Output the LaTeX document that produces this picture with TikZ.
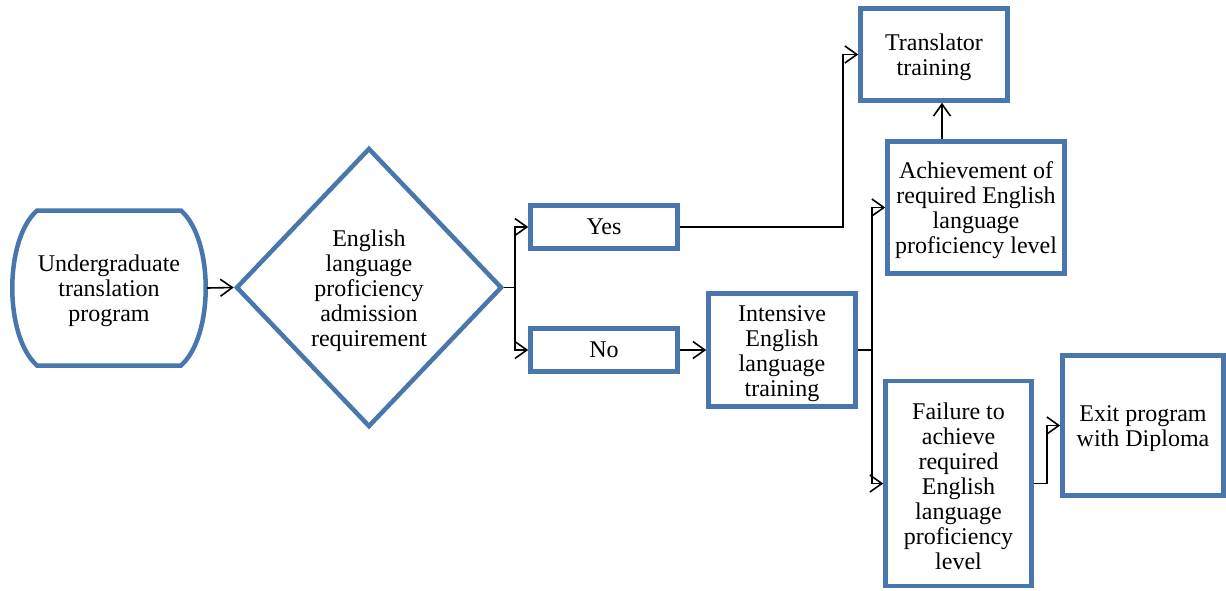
\documentclass[tikz,border=0pt]{standalone}
\usepackage{fontspec}
\setmainfont{Liberation Serif}
\usetikzlibrary{shapes.geometric,arrows.meta,calc}
\definecolor{boxblue}{RGB}{74,118,174}
% extra headroom on the first line of a stacked label
\newcommand\firstlinestrut{\rule{0pt}{22.5pt}}
\begin{document}
\begin{tikzpicture}[x=1pt,y=-1pt,
  every node/.style={font=\fontsize{24}{25}\selectfont, align=center, inner sep=0pt},
  flowbox/.style={draw=boxblue, line width=4.5pt, fill=white, rectangle},
  decision/.style={draw=boxblue, line width=4.5pt, fill=white, diamond},
  link/.style={draw=black, line width=1.6pt},
  arrowlink/.style={link, -{Straight Barb[length=12pt,width=17pt,line width=1.6pt]}}]
\useasboundingbox (0,0) rectangle (1226,590);

% start terminal with curved sides
\draw[draw=boxblue, line width=4.5pt, fill=white]
  (37,210.5) -- (181,210.5)
  .. controls (214,240) and (214,336) .. (181,365.5)
  -- (37,365.5)
  .. controls (4,336) and (4,240) .. (37,210.5) -- cycle;
\node[minimum width=196pt, minimum height=155pt] (start) at (109,288)
  {\firstlinestrut Undergraduate\\translation\\program};

\node[decision, minimum width=266pt, minimum height=279pt] (req) at (369,287.5)
  {\firstlinestrut English\\language\\proficiency\\admission\\requirement};

\node[flowbox, minimum width=147pt, minimum height=43pt] (yes) at (604,227) {Yes};
\node[flowbox, minimum width=147pt, minimum height=43pt] (no) at (604,350) {No};
\node[flowbox, minimum width=147pt, minimum height=92pt] (trans) at (934,54.5)
  {\firstlinestrut Translator\\training};
\node[flowbox, minimum width=177pt, minimum height=132pt] (ach) at (976,207.5)
  {\firstlinestrut Achievement of\\required English\\language\\proficiency level};
\node[flowbox, minimum width=147pt, minimum height=113pt] (int) at (782,350)
  {\firstlinestrut Intensive\\English\\language\\training};
\node[flowbox, minimum width=146pt, minimum height=205pt] (fail) at (958.5,483.5)
  {\firstlinestrut Failure to\\achieve\\required\\English\\language\\proficiency\\level};
\node[flowbox, minimum width=161pt, minimum height=140pt] (exit) at (1143,425.5)
  {\firstlinestrut Exit program\\with Diploma};

% branch points and bends
\coordinate (split1) at (515,287.5);
\coordinate (split2) at (872,350);
\coordinate (upx) at (942,0);

\draw[arrowlink] (start.east) -- (req.west);
\draw[link] (req.east) -- (split1);
\draw[arrowlink] (split1) |- (yes.west);
\draw[arrowlink] (split1) |- (no.west);
\draw[arrowlink] (yes.east) -| ($(trans.west)+(-15,0)$) -- (trans.west);
\draw[arrowlink] (ach.north -| upx) -- (trans.south -| upx);
\draw[arrowlink] (no.east) -- (int.west);
\draw[link] (int.east) -- (split2);
\draw[arrowlink] (split2) |- (ach.west);
\draw[arrowlink] (split2) |- (fail.west);
\draw[arrowlink] (fail.east) -| ($(exit.west)+(-13,0)$) -- (exit.west);
\end{tikzpicture}
\end{document}
